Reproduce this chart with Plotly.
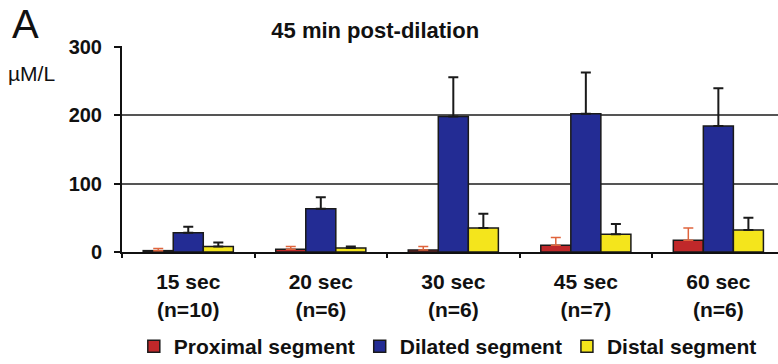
import plotly.graph_objects as go

categories = ["15 sec<br>(n=10)", "20 sec<br>(n=6)", "30 sec<br>(n=6)", "45 sec<br>(n=7)", "60 sec<br>(n=6)"]
proximal = [2, 4, 3, 10, 17]
proximal_err = [3, 4, 5, 11, 18]
dilated = [28, 63, 198, 202, 184]
dilated_err = [9, 17, 57, 60, 55]
distal = [8, 6, 35, 26, 32]
distal_err = [6, 2, 21, 15, 18]
y_ticks = [0, 100, 200, 300]

FONT = "Liberation Sans, Arial, sans-serif"

fig = go.Figure()

def add(name, vals, errs, color, ecolor, ethick):
    fig.add_trace(go.Bar(
        name="<b>" + name + "</b>", x=categories, y=vals,
        marker=dict(color=color, line=dict(color="#1a1a1a", width=1.5)),
        error_y=dict(type="data", array=errs, arrayminus=[0]*len(errs), symmetric=False,
                     color=ecolor, thickness=ethick, width=5),
    ))

add("Proximal segment", proximal, proximal_err, "#c0282a", "#e0643c", 1.5)
add("Dilated segment", dilated, dilated_err, "#232c94", "#1a1a1a", 2)
add("Distal segment", distal, distal_err, "#f4e51c", "#1a1a1a", 2)

fig.update_layout(
    width=778, height=364,
    margin=dict(l=122, r=0, t=46, b=112, autoexpand=False),
    paper_bgcolor="white", plot_bgcolor="white",
    barmode="group", bargap=0.32, bargroupgap=0,
    font=dict(family=FONT, color="#111"),
    title=dict(text="<b>45 min post-dilation</b>", x=0.386, xref="paper", xanchor="center",
               y=1 - 30/364, yref="container", yanchor="middle",
               font=dict(size=22, family=FONT, color="#111")),
    showlegend=True,
    legend=dict(orientation="h", x=0.018, xanchor="left", xref="paper",
                y=1 - 326/364, yref="container", yanchor="top",
                font=dict(size=21, family=FONT, color="#111"),
                itemwidth=30, tracegroupgap=0, bgcolor="rgba(0,0,0,0)"),
)

fig.update_xaxes(
    range=[-0.5, 4.45], showline=True, linecolor="#111", linewidth=2, automargin=False,
    ticks="outside", tickson="boundaries", ticklen=4, tickcolor="#111", tickwidth=1.5,
    tickfont=dict(size=21, family=FONT, color="#111"), ticklabelstandoff=10,
    tickmode="array", tickvals=categories,
    ticktext=["<b>" + c + "</b>" for c in categories],
    showgrid=False, fixedrange=True,
)
fig.update_yaxes(
    range=[0, 300.8], showline=True, linecolor="#111", linewidth=2, automargin=False,
    ticks="outside", ticklen=6, tickcolor="#111", tickwidth=1.5,
    tickvals=y_ticks, ticktext=["<b>%d</b>" % v for v in y_ticks],
    tickfont=dict(size=20, family=FONT, color="#111"), ticklabelstandoff=8,
    showgrid=True, gridcolor="#555", gridwidth=1.5, zeroline=False,
)

fig.add_annotation(text="A", xref="paper", yref="paper", x=(10 - 122) / 656, y=(252 - 24) / 206,
                   xanchor="left", yanchor="middle", showarrow=False,
                   font=dict(size=40, family=FONT, color="#111"))
fig.add_annotation(text="µM/L", xref="paper", yref="paper", x=(6 - 122) / 656, y=(252 - 73) / 206,
                   xanchor="left", yanchor="middle", showarrow=False,
                   font=dict(size=21, family=FONT, color="#111"))

fig.write_html("out.html")
